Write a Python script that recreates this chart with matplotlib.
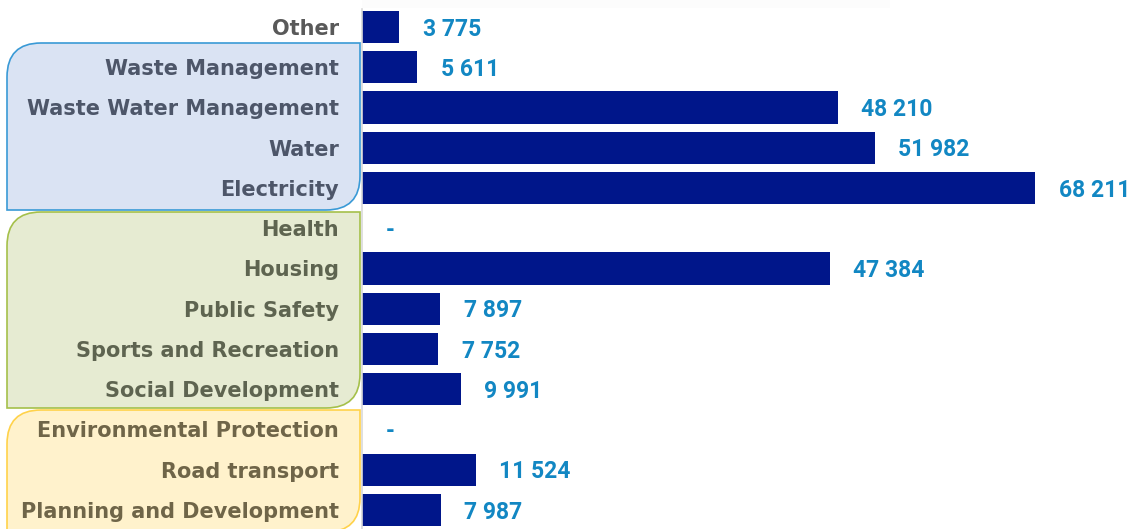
import matplotlib
matplotlib.use("Agg")
import matplotlib.pyplot as plt
from matplotlib.path import Path
from matplotlib.patches import PathPatch

categories = ["Other", "Waste Management", "Waste Water Management", "Water",
              "Electricity", "Health", "Housing", "Public Safety",
              "Sports and Recreation", "Social Development",
              "Environmental Protection", "Road transport",
              "Planning and Development"]
values = [3775, 5611, 48210, 51982, 68211, 0, 47384, 7897, 7752, 9991,
          0, 11524, 7987]
groups = ["none", "blue", "blue", "blue", "blue", "green", "green", "green",
          "green", "green", "yellow", "yellow", "yellow"]

label_colors = {"none": "#595959", "blue": "#4D5669", "green": "#5E6450",
                "yellow": "#6F6548"}
box_styles = {
    "blue": dict(face="#DAE3F3", edge="#3A9AD6", y0=43, y1=210),
    "green": dict(face="#E6EBD2", edge="#A5C04A", y0=212, y1=408),
    "yellow": dict(face="#FFF2CC", edge="#FFD24A", y0=410, y1=532),
}

W, H = 1139, 529
fig = plt.figure(figsize=(W / 100, H / 100), dpi=100)

# background axes in pixel coordinates for the rounded group boxes
bg = fig.add_axes([0, 0, 1, 1], zorder=0)
bg.set_xlim(0, W)
bg.set_ylim(H, 0)
bg.axis("off")


def box_path(x0, x1, y0, y1, r):
    verts = [
        (x0 + r, y0), (x1, y0), (x1, y1 - r),
        (x1, y1), (x1 - r, y1),
        (x0, y1), (x0, y0 + r),
        (x0, y0), (x0 + r, y0),
        (x0 + r, y0),
    ]
    codes = [Path.MOVETO, Path.LINETO, Path.LINETO,
             Path.CURVE3, Path.CURVE3,
             Path.LINETO, Path.LINETO,
             Path.CURVE3, Path.CURVE3,
             Path.CLOSEPOLY]
    return Path(verts, codes)


for name, st in box_styles.items():
    p = box_path(7, 360, st["y0"], st["y1"], 34)
    bg.add_patch(PathPatch(p, facecolor=st["face"], edgecolor=st["edge"],
                           linewidth=1.2))

# faint top band
bg.fill_between([362, 890], 0, 8, color="#FCFCFC", linewidth=0)

ax_left = 362 / W
ax = fig.add_axes([ax_left, 0, 1 - ax_left, 1], zorder=1)
ax.set_facecolor("none")

n = len(categories)
pos = list(range(n))
ax.barh(pos, values, height=0.8, color="#00168A")

row_px = 40.25
top = -27 / row_px
bottom = (H - 27) / row_px
ax.set_ylim(bottom, top)
xmax = 68211 / (1035 - 362) * (W - 362)
ax.set_xlim(0, xmax)

ax.set_yticks(pos)
ax.set_yticklabels(categories, fontsize=15, fontweight="bold",
                   fontfamily="DejaVu Sans")
for lbl, g in zip(ax.get_yticklabels(), groups):
    lbl.set_color(label_colors[g])
ax.tick_params(axis="y", length=0, pad=16.5)
ax.set_xticks([])

for s in ["top", "right", "bottom"]:
    ax.spines[s].set_visible(False)
ax.spines["left"].set_color("#D9D9D9")
ax.spines["left"].set_linewidth(1.2)
ax.spines["left"].set_bounds(bottom, -0.45)

for y, v in zip(pos, values):
    txt = "-" if v == 0 else f"{v:,}".replace(",", " ")
    ax.annotate(txt, xy=(v, y), xytext=(17, -1.5), textcoords="offset points",
                ha="left", va="center", fontsize=16.5, fontweight="bold",
                fontfamily="Roboto", color="#1287C3")

fig.savefig("out.png", dpi=100)
